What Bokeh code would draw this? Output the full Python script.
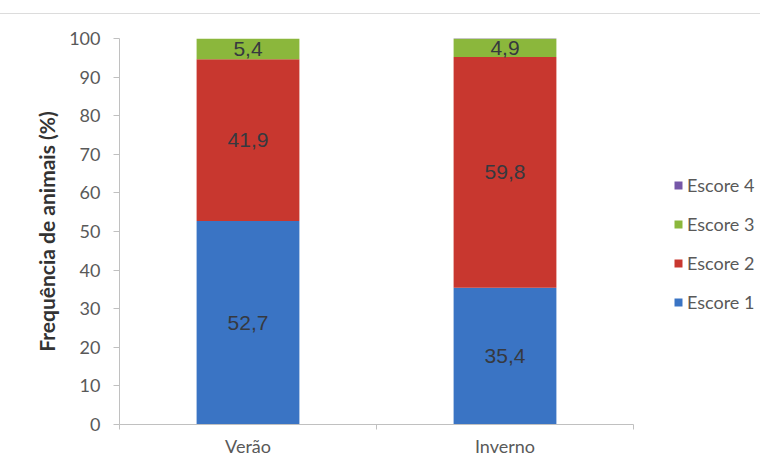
import numpy as np
from bokeh.plotting import figure
from bokeh.models import (Range1d, FixedTicker, Legend, LegendItem, ColumnDataSource)
from bokeh.core.properties import value
from bokeh.embed import file_html
from bokeh.resources import INLINE

# ---- data ----
seasons = ["Verão", "Inverno"]
escore1 = [52.7, 35.4]
escore2 = [41.9, 59.8]
escore3 = [5.4, 4.9]
escore4 = [0.0, 0.0]
series_names = ["Escore 1", "Escore 2", "Escore 3", "Escore 4"]
colors = ["#3A74C4", "#C8372F", "#8BB73C", "#7657A8"]
y_ticks = [0, 10, 20, 30, 40, 50, 60, 70, 80, 90, 100]

xpos = list(np.arange(len(seasons)) + 0.5)
data = {"x": xpos, "Escore 1": escore1, "Escore 2": escore2,
        "Escore 3": escore3, "Escore 4": escore4}
src = ColumnDataSource(data)

# frame extends right of the category axis to hold the legend
AXIS_PX = 514
FRAME_PX = 636
x_end = len(seasons) * FRAME_PX / AXIS_PX

p = figure(width=760, height=445, output_backend="svg", toolbar_location=None,
           x_range=Range1d(0, x_end), y_range=Range1d(0, 100),
           min_border_left=119, min_border_right=5, min_border_top=24,
           min_border_bottom=30,
           styles={"margin-top": "13px", "border-top": "1px solid #dcdcdc"})
p.outline_line_color = None
p.xgrid.grid_line_color = None
p.ygrid.grid_line_color = None

rs = p.vbar_stack(series_names, x="x", width=0.4, source=src,
                  color=colors, line_color=None)

# value labels
bottoms = np.zeros(len(seasons))
for vals in [escore1, escore2, escore3]:
    v = np.array(vals)
    mids = bottoms + v / 2
    labels = [("%.1f" % a).replace(".", ",") for a in v]
    p.text(x=xpos, y=list(mids), text=labels, text_align="center",
           text_baseline="middle", text_font=value("Liberation Sans"),
           text_font_size="21px", text_color="#36393f")
    bottoms = bottoms + v

# axes styling
axis_color = "#c0c0c0"
label_color = "#595959"
p.yaxis.ticker = FixedTicker(ticks=y_ticks)
p.yaxis.axis_line_color = axis_color
p.yaxis.major_tick_line_color = axis_color
p.yaxis.major_tick_out = 6
p.yaxis.major_tick_in = 0
p.yaxis.minor_tick_line_color = None
p.yaxis.major_label_standoff = 13
p.yaxis.major_label_text_font = "Lato"
p.yaxis.major_label_text_font_size = "18px"
p.yaxis.major_label_text_color = label_color
p.yaxis.axis_label = "Frequência de animais (%)"
p.yaxis.axis_label_text_font = "Lato"
p.yaxis.axis_label_text_font_style = "bold"
p.yaxis.axis_label_text_font_size = "21px"
p.yaxis.axis_label_text_color = "#333333"
p.yaxis.axis_label_standoff = 7

p.xaxis.bounds = (0, len(seasons))
p.xaxis.ticker = FixedTicker(ticks=xpos, minor_ticks=list(range(len(seasons) + 1)))
p.xaxis.major_label_overrides = {float(x): s for x, s in zip(xpos, seasons)}
p.xaxis.axis_line_color = axis_color
p.xaxis.major_tick_line_color = None
p.xaxis.minor_tick_line_color = axis_color
p.xaxis.minor_tick_out = 5
p.xaxis.minor_tick_in = 0
p.xaxis.major_label_standoff = 4
p.xaxis.major_label_text_font = "Lato"
p.xaxis.major_label_text_font_size = "18px"
p.xaxis.major_label_text_color = label_color

# legend (Escore 4 on top)
items = [LegendItem(label=n, renderers=[r]) for n, r in zip(series_names, rs)][::-1]
legend = Legend(items=items, location=(554, 111), orientation="vertical",
                glyph_width=10, glyph_height=10, label_standoff=4,
                label_height=22, spacing=17, padding=0, margin=0,
                label_text_font="Lato", label_text_font_size="18px",
                label_text_color=label_color, border_line_color=None,
                background_fill_alpha=0)
p.add_layout(legend, "center")

open("out.html", "w").write(file_html(p, INLINE))
